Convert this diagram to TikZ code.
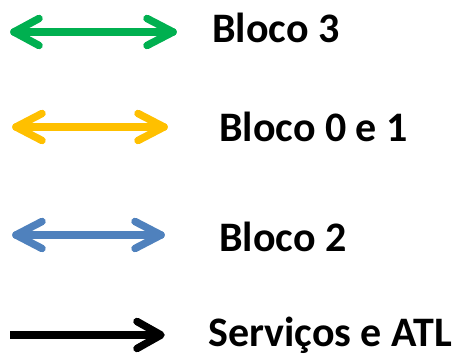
\documentclass[tikz,border=0pt]{standalone}
\usepackage{fontspec}
\setmainfont{Carlito}
\definecolor{lgreen}{HTML}{00B050}
\definecolor{lyellow}{HTML}{FFC000}
\definecolor{lblue}{HTML}{4F81BD}
\begin{document}
\begin{tikzpicture}[x=1pt,y=1pt,
  shaft/.style={line width=7.5pt},
  barb/.style={line width=7.5pt,line cap=round,line join=round},
  lbl/.style={anchor=base west,inner sep=0pt,font=\fontsize{42}{46}\selectfont\bfseries}]
\useasboundingbox (0,0) rectangle (464,363);
% green
\coordinate (gL) at (14,331);
\coordinate (gR) at (173,331);
\draw[barb,lgreen] (gL) -- (gR);
\draw[barb,lgreen] ([shift={(25,13.5)}]gL) -- (gL) -- ([shift={(25,-13.5)}]gL);
\draw[barb,lgreen] ([shift={(-26,13.5)}]gR) -- (gR) -- ([shift={(-26,-13.5)}]gR);
\node[lbl] (t3) at (212,320) {Bloco 3};
% yellow
\coordinate (yL) at (16,236);
\coordinate (yR) at (164,236);
\draw[barb,lyellow] (yL) -- (yR);
\draw[barb,lyellow] ([shift={(26,13.5)}]yL) -- (yL) -- ([shift={(26,-13.5)}]yL);
\draw[barb,lyellow] ([shift={(-26,13.5)}]yR) -- (yR) -- ([shift={(-26,-13.5)}]yR);
\node[lbl] (t01) at (219,221) {Bloco 0 e 1};
% blue
\coordinate (bL) at (16,128);
\coordinate (bR) at (161,128);
\draw[barb,lblue] (bL) -- (bR);
\draw[barb,lblue] ([shift={(26,13.5)}]bL) -- (bL) -- ([shift={(26,-13.5)}]bL);
\draw[barb,lblue] ([shift={(-26,13.5)}]bR) -- (bR) -- ([shift={(-26,-13.5)}]bR);
\node[lbl] (t2) at (219,111) {Bloco 2};
% black
\coordinate (kL) at (10,28);
\coordinate (kR) at (161,28);
\draw[shaft,black] (kL) -- (kR);
\draw[barb,black] ([shift={(-24,13.5)}]kR) -- (kR) -- ([shift={(-24,-13.5)}]kR);
\node[lbl] (ts) at (208,16) {Serviços e ATL};
\end{tikzpicture}
\end{document}
